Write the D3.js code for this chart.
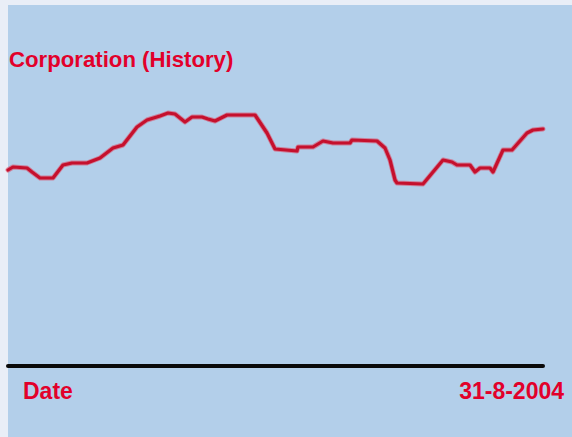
<!DOCTYPE html>
<html>
<head>
<meta charset="utf-8">
<script src="https://cdn.jsdelivr.net/npm/d3@7"></script>
<style>
  html, body { margin: 0; padding: 0; background: #e9eef7; }
  svg { display: block; }
</style>
</head>
<body>
<div id="chart"></div>
<script>
// Data: week index and price level
const weeks = [0, 1, 3.8, 4.8, 6.4, 9, 11, 12.8, 15.8, 18.4, 21, 23, 25.8, 27.8, 30.4, 32, 33.4, 35.4, 36.8, 38.8, 40, 41.4, 43.8, 49.4, 51.8, 53.4, 57.8, 58, 61, 63, 65, 68.4, 68.8, 73.8, 75.4, 76.4, 77.4, 77.8, 83, 85, 87, 88.8, 89.8, 92.4, 93.4, 94.4, 96.4, 97, 99, 100.8, 103.8, 105, 107];
const prices = [98, 99.5, 99, 97, 94, 94, 100.5, 101.5, 101.5, 104, 109, 110.5, 119.5, 123, 125, 126.5, 126, 122, 124.5, 124.5, 123.5, 122.5, 125.5, 125.5, 116.5, 108.5, 107.5, 109.5, 109.5, 112.5, 111.5, 111.5, 113, 112.5, 109, 103, 93, 91.5, 91, 97, 103, 102, 100.5, 100.5, 97, 99, 99, 97, 108, 108, 116.5, 118, 118.5];
const titleText = "Corporation (History)";
const axisLabelLeft = "Date";
const axisLabelRight = "31-8-2004";

const W = 572, H = 437;
const svg = d3.select("#chart").append("svg").attr("width", W).attr("height", H);

// panel
svg.append("rect").attr("x", 8).attr("y", 5).attr("width", W - 8).attr("height", H - 5).attr("fill", "#b3cfea");

const x = d3.scaleLinear().domain([0, 107]).range([8, 543]);
const y = d3.scaleLinear().domain([0, 130]).range([366, 106]);

const data = weeks.map((w, i) => ({ w, v: prices[i] }));
const line = d3.line().x(d => x(d.w)).y(d => y(d.v)).curve(d3.curveLinear);

// soft halo then core line
svg.append("path").datum(data).attr("d", line).attr("fill", "none")
  .attr("stroke", "#e0405a").attr("stroke-opacity", 0.55).attr("stroke-width", 5)
  .attr("stroke-linejoin", "round").attr("stroke-linecap", "round");
svg.append("path").datum(data).attr("d", line).attr("fill", "none")
  .attr("stroke", "#c5102d").attr("stroke-width", 3.2)
  .attr("stroke-linejoin", "round").attr("stroke-linecap", "round");

// baseline axis
const axisG = svg.append("g").attr("transform", `translate(0,${y(0)})`);
axisG.call(d3.axisBottom(x).tickValues([]).tickSizeOuter(0));
axisG.select(".domain").attr("stroke", "#0a0a0a").attr("stroke-width", 4).attr("stroke-linecap", "round")
  .attr("d", `M${x(0)},0H${x(107)}`);

// texts
const font = "'Liberation Sans', Arial, sans-serif";
svg.append("text").attr("x", 9).attr("y", 67).text(titleText)
  .attr("fill", "#e2002a").attr("font-family", font).attr("font-weight", "bold").attr("font-size", 22.2);
svg.append("text").attr("x", 23).attr("y", 399).text(axisLabelLeft)
  .attr("fill", "#e2002a").attr("font-family", font).attr("font-weight", "bold").attr("font-size", 23);
svg.append("text").attr("x", 564).attr("y", 399).attr("text-anchor", "end").text(axisLabelRight)
  .attr("fill", "#e2002a").attr("font-family", font).attr("font-weight", "bold").attr("font-size", 23);
</script>
</body>
</html>
